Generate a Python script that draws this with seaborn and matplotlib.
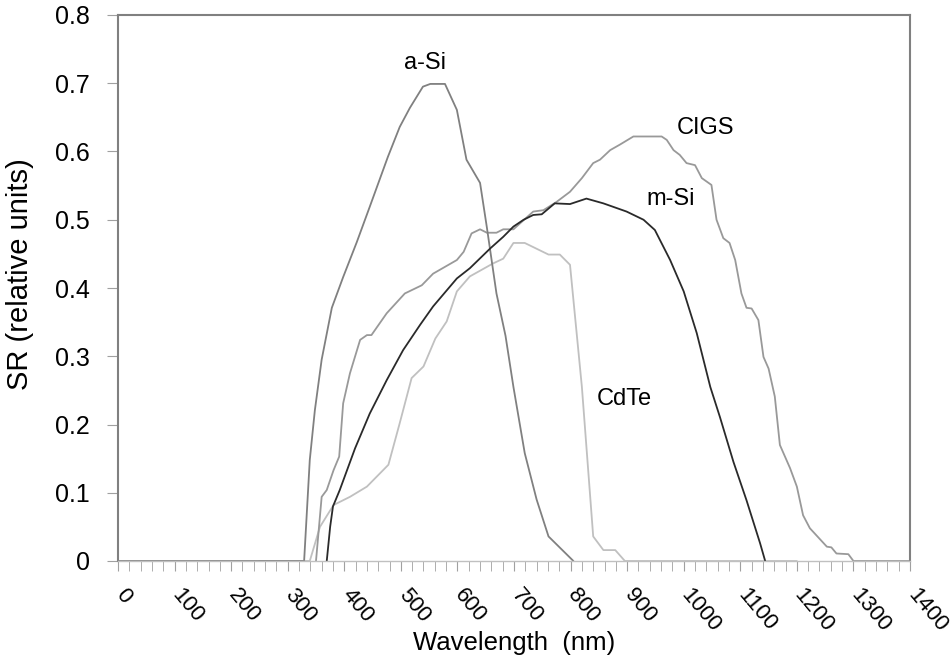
import matplotlib

matplotlib.use("Agg")
import matplotlib.pyplot as plt
import numpy as np
import pandas as pd
import seaborn as sns
from matplotlib.ticker import MultipleLocator
from matplotlib.transforms import ScaledTranslation

# spectral response curves
ASI_WL = [0, 329, 339, 348, 360, 378, 398, 422, 445, 477, 498, 516, 539, 552, 578,
          599, 616, 640, 652, 669, 685, 699, 719, 740, 761, 805]
ASI_SR = [0, 0, 0.148, 0.221, 0.295, 0.371, 0.416, 0.467, 0.519, 0.592, 0.636, 0.664,
          0.695, 0.699, 0.699, 0.661, 0.588, 0.554, 0.489, 0.392, 0.330, 0.255, 0.158,
          0.090, 0.036, 0]

CIGS_WL = [350, 360, 369, 381, 391, 398, 410, 428, 440, 448, 475, 507, 537, 557, 599,
           611, 625, 640, 652, 669, 681, 699, 734, 752, 775, 799, 820, 840, 852, 870,
           887, 911, 961, 970, 982, 993, 1005, 1020, 1032, 1049, 1058, 1070, 1081, 1091,
           1102, 1111, 1120, 1132, 1141, 1150, 1161, 1170, 1188, 1200, 1211, 1223, 1253,
           1261, 1270, 1291, 1300, 1400]
CIGS_SR = [0, 0.094, 0.104, 0.133, 0.153, 0.231, 0.275, 0.324, 0.331, 0.331, 0.363,
           0.392, 0.404, 0.421, 0.441, 0.453, 0.480, 0.486, 0.481, 0.481, 0.486, 0.486,
           0.512, 0.514, 0.526, 0.541, 0.561, 0.583, 0.588, 0.602, 0.610, 0.622, 0.622,
           0.617, 0.602, 0.595, 0.583, 0.580, 0.561, 0.551, 0.500, 0.473, 0.466, 0.441,
           0.392, 0.371, 0.370, 0.353, 0.299, 0.282, 0.241, 0.170, 0.136, 0.109, 0.067,
           0.048, 0.021, 0.020, 0.011, 0.010, 0, 0]

MSI_WL = [369, 375, 380, 392, 419, 445, 475, 504, 534, 557, 599, 622, 658, 681, 699,
          717, 734, 749, 772, 799, 828, 858, 899, 929, 949, 976, 1000, 1023, 1047, 1064,
          1088, 1111, 1135, 1144]
MSI_SR = [0, 0.050, 0.080, 0.104, 0.165, 0.216, 0.265, 0.309, 0.346, 0.373, 0.414,
          0.429, 0.458, 0.475, 0.490, 0.500, 0.507, 0.508, 0.524, 0.523, 0.531, 0.524,
          0.512, 0.500, 0.485, 0.441, 0.395, 0.334, 0.255, 0.211, 0.145, 0.089, 0.026, 0]

CDTE_WL = [250, 339, 357, 381, 410, 440, 478, 498, 519, 540, 561, 581, 599, 622, 663,
           681, 699, 719, 761, 781, 799, 820, 840, 858, 879, 896, 1200]
CDTE_SR = [0, 0, 0.050, 0.082, 0.094, 0.109, 0.141, 0.202, 0.268, 0.285, 0.326, 0.351,
           0.395, 0.417, 0.436, 0.443, 0.466, 0.466, 0.449, 0.449, 0.434, 0.255, 0.036,
           0.016, 0.016, 0, 0]

SERIES = ["CdTe", "CIGS", "a-Si", "m-Si"]
COLORS = {"CdTe": "#c0c0c0", "CIGS": "#999999", "a-Si": "#808080", "m-Si": "#2a2a2a"}
LABELS = {"a-Si": (543, 0.730), "CIGS": (1038, 0.634), "m-Si": (977, 0.530),
          "CdTe": (895, 0.237)}

frames = []
for name, wl, sr in [("CdTe", CDTE_WL, CDTE_SR), ("CIGS", CIGS_WL, CIGS_SR),
                     ("a-Si", ASI_WL, ASI_SR), ("m-Si", MSI_WL, MSI_SR)]:
    frames.append(pd.DataFrame({"wavelength": wl, "sr": sr, "cell": name}))
data = pd.concat(frames, ignore_index=True)

sns.set_style("white")
plt.rcParams["font.family"] = ["Liberation Sans", "DejaVu Sans"]
plt.rcParams["text.color"] = "black"
plt.rcParams["axes.labelcolor"] = "black"

fig = plt.figure(figsize=(9.53, 6.6), dpi=100)
ax = fig.add_axes([118 / 953, 1 - 561 / 660, 792 / 953, 546 / 660])

sns.lineplot(data=data, x="wavelength", y="sr", hue="cell", hue_order=SERIES,
             palette=COLORS, sort=False, estimator=None, linewidth=1.3,
             legend=False, ax=ax)

for name, (x, y) in LABELS.items():
    ax.text(x, y, name, ha="center", va="center", fontsize=17, color="black")

ax.set_xlim(0, 1400)
ax.set_ylim(0, 0.8)
ax.xaxis.set_major_locator(MultipleLocator(100))
ax.xaxis.set_minor_locator(MultipleLocator(20))
ax.set_yticks(np.arange(0, 0.81, 0.1))
ax.set_yticklabels(["0"] + [f"{v:.1f}" for v in np.arange(0.1, 0.81, 0.1)])
ax.tick_params(axis="both", which="both", direction="out", color="#a0a0a0",
               labelcolor="black")
ax.tick_params(axis="x", which="both", length=7, bottom=True, pad=10, labelsize=16)
ax.tick_params(axis="y", which="major", length=8, left=True, pad=12, labelsize=18)
shift = ScaledTranslation(-0.07, 0, fig.dpi_scale_trans)
for lab in ax.get_xticklabels():
    lab.set_rotation(-50)
    lab.set_ha("left")
    lab.set_va("top")
    lab.set_rotation_mode("default")
    lab.set_transform(lab.get_transform() + shift)

for side in ["top", "right", "left"]:
    ax.spines[side].set_color("#808080")
    ax.spines[side].set_linewidth(1.5)
ax.spines["bottom"].set_color("#c0c0c0")
ax.spines["bottom"].set_linewidth(1.0)

ax.set_xlabel("Wavelength  (nm)", fontsize=18.5)
ax.xaxis.set_label_coords(0.5, (561 - 650) / 546)
ax.xaxis.label.set_va("baseline")
ax.set_ylabel("SR (relative units)", fontsize=21)
ax.yaxis.set_label_coords(-0.106, 0.526)

fig.savefig("out.png", dpi=100)
